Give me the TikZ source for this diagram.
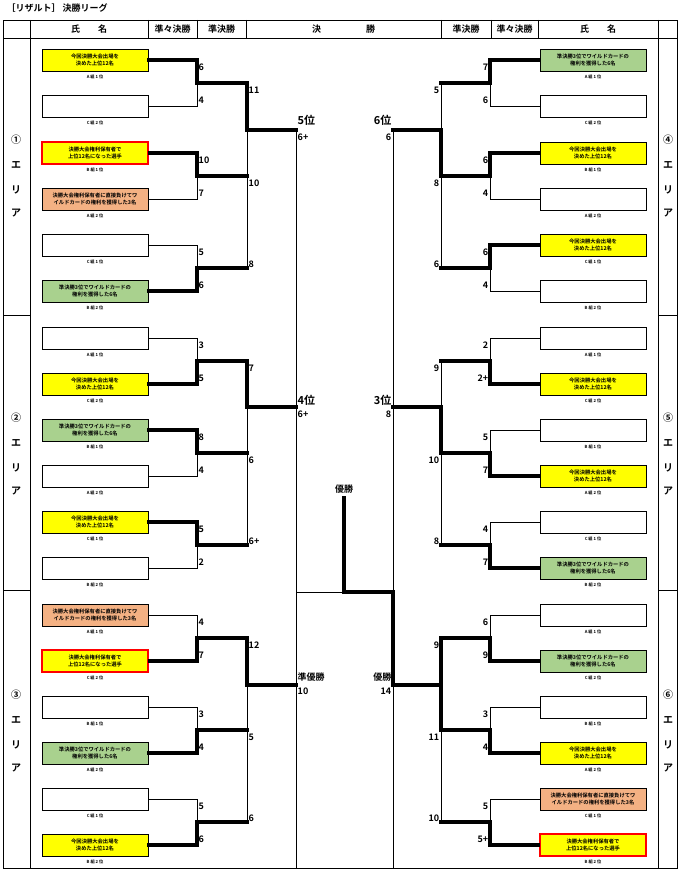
\documentclass[tikz,border=0pt]{standalone}
\usepackage{fontspec}
\setmainfont{Noto Sans CJK JP}[BoldFont={Noto Sans CJK JP Bold}]
\definecolor{ygl}{HTML}{FFFF00}
\definecolor{grn}{HTML}{A9D18E}
\definecolor{sal}{HTML}{F4B183}
\tikzset{
 box/.style={draw=black,line width=0.7pt,minimum width=106pt,minimum height=22pt,inner sep=0pt,align=center,font=\bfseries\fontsize{5.3}{7.5}\selectfont},
 W/.style={fill=white,node contents={}},
 Y/.style={fill=ygl,node contents={今回決勝大会出場を\\決めた上位12名}},
 G/.style={fill=grn,node contents={準決勝3位でワイルドカードの\\権利を獲得した6名}},
 S/.style={fill=sal,node contents={決勝大会権利保有者に直接負けてワ\\イルドカードの権利を獲得した3名}},
 R/.style={fill=ygl,draw=red,line width=2.6pt,node contents={決勝大会権利保有者で\\上位12名になった選手}},
 lab/.style={font=\bfseries\fontsize{4.2}{5}\selectfont,inner sep=0pt},
 thinl/.style={line width=0.8pt},
 thickl/.style={line width=3.2pt,line join=miter,line cap=rect},
 num/.style={font=\bfseries\fontsize{9}{9}\selectfont,inner sep=0.5pt},
 big/.style={font=\bfseries\fontsize{11}{11}\selectfont,inner sep=0.5pt},
 hdr/.style={font=\bfseries\fontsize{9}{9}\selectfont},
 area/.style={font=\bfseries\fontsize{10}{10}\selectfont},
}
\newcommand\entry[5]{\node[box,name=#1,at={(#2,#3)},#4]; \node[lab] at (#2,#3+17) {#5};}
% left pair: top, bot, y1, y2, winner, n1, n2
\newcommand\pairL[7]{%
 \pgfmathsetmacro\mm{(#3+#4)/2}
 \draw[thinl] (#1.east) -- (197,#3) -- (197,#4) -- (#2.east);
 \ifnum#5=1 \draw[thickl] (#1.east) -- (197,#3) -- (197,\mm) -- (247,\mm);
 \else \draw[thickl] (#2.east) -- (197,#4) -- (197,\mm) -- (247,\mm);\fi
 \node[num,anchor=west] at (198,#3+7) {#6};
 \node[num,anchor=west] at (198,#4-6) {#7};}
\newcommand\pairR[7]{%
 \pgfmathsetmacro\mm{(#3+#4)/2}
 \draw[thinl] (#1.west) -- (490,#3) -- (490,#4) -- (#2.west);
 \ifnum#5=1 \draw[thickl] (#1.west) -- (490,#3) -- (490,\mm) -- (441,\mm);
 \else \draw[thickl] (#2.west) -- (490,#4) -- (490,\mm) -- (441,\mm);\fi
 \node[num,anchor=east] at (489,#3+7) {#6};
 \node[num,anchor=east] at (489,#4-6) {#7};}
\begin{document}
\begin{tikzpicture}[x=1pt,y=-1pt]
\useasboundingbox (0,0) rectangle (680,875);
\node[anchor=west,font=\bfseries\fontsize{9}{9}\selectfont] at (3,8) {［リザルト］ 決勝リーグ};
% frame
\draw[line width=0.9pt] (3,20) rectangle (677,868);
\draw[thinl] (3,38) -- (677,38);
\draw[thinl] (30,20) -- (30,868) (658,20) -- (658,868);
\foreach \x in {148,197,246,441,491,538} \draw[thinl] (\x,20) -- (\x,38);
\draw[thinl] (3,315) -- (30,315) (3,590) -- (30,590) (658,315) -- (677,315) (658,590) -- (677,590);
\node[hdr] at (89,29) {氏　　名};
\node[hdr] at (172.5,29) {準々決勝};
\node[hdr] at (221.5,29) {準決勝};
\node[hdr] at (343.5,29) {決　　　　　勝};
\node[hdr] at (466,29) {準決勝};
\node[hdr] at (514.5,29) {準々決勝};
\node[hdr] at (598,29) {氏　　名};
\foreach \c/\y in {①/0,②/278,③/555} {
 \node[area] at (16,140+\y) {\c}; \node[area] at (16,165+\y) {エ};
 \node[area] at (16,190+\y) {リ}; \node[area] at (16,213+\y) {ア};}
\foreach \c/\y in {④/0,⑤/278,⑥/555} {
 \node[area] at (668,140+\y) {\c}; \node[area] at (668,165+\y) {エ};
 \node[area] at (668,190+\y) {リ}; \node[area] at (668,213+\y) {ア};}
% left entries
\entry{l1}{95}{60}{Y}{A 組 1 位}\entry{l2}{95}{106}{W}{C 組 2 位}
\entry{l3}{95}{153}{R}{B 組 1 位}\entry{l4}{95}{199}{S}{A 組 2 位}
\entry{l5}{95}{245}{W}{C 組 1 位}\entry{l6}{95}{291}{G}{B 組 2 位}
\entry{l7}{95}{338}{W}{A 組 1 位}\entry{l8}{95}{384}{Y}{C 組 2 位}
\entry{l9}{95}{430}{G}{B 組 1 位}\entry{l10}{95}{476}{W}{A 組 2 位}
\entry{l11}{95}{522}{Y}{C 組 1 位}\entry{l12}{95}{568}{W}{B 組 2 位}
\entry{l13}{95}{615}{S}{A 組 1 位}\entry{l14}{95}{661}{R}{C 組 2 位}
\entry{l15}{95}{707}{W}{B 組 1 位}\entry{l16}{95}{753}{G}{A 組 2 位}
\entry{l17}{95}{799}{W}{C 組 1 位}\entry{l18}{95}{845}{Y}{B 組 2 位}
% right entries
\entry{r1}{593}{60}{G}{A 組 1 位}\entry{r2}{593}{106}{W}{C 組 2 位}
\entry{r3}{593}{153}{Y}{B 組 1 位}\entry{r4}{593}{199}{W}{A 組 2 位}
\entry{r5}{593}{245}{Y}{C 組 1 位}\entry{r6}{593}{291}{W}{B 組 2 位}
\entry{r7}{593}{338}{W}{A 組 1 位}\entry{r8}{593}{384}{Y}{C 組 2 位}
\entry{r9}{593}{430}{W}{B 組 1 位}\entry{r10}{593}{476}{Y}{A 組 2 位}
\entry{r11}{593}{522}{W}{C 組 1 位}\entry{r12}{593}{568}{G}{B 組 2 位}
\entry{r13}{593}{615}{W}{A 組 1 位}\entry{r14}{593}{661}{G}{C 組 2 位}
\entry{r15}{593}{707}{W}{B 組 1 位}\entry{r16}{593}{753}{Y}{A 組 2 位}
\entry{r17}{593}{799}{S}{C 組 1 位}\entry{r18}{593}{845}{R}{B 組 2 位}
% SF verticals
\draw[thinl] (247,83) -- (247,268) (247,361) -- (247,545) (247,638) -- (247,822);
\draw[thinl] (441,83) -- (441,268) (441,361) -- (441,545) (441,638) -- (441,822);
\pairL{l1}{l2}{60}{106}{1}{6}{4}\pairL{l3}{l4}{153}{199}{1}{10}{7}\pairL{l5}{l6}{245}{291}{2}{5}{6}
\pairL{l7}{l8}{338}{384}{2}{3}{5}\pairL{l9}{l10}{430}{476}{1}{8}{4}\pairL{l11}{l12}{522}{568}{1}{5}{2}
\pairL{l13}{l14}{615}{661}{2}{4}{7}\pairL{l15}{l16}{707}{753}{2}{3}{4}\pairL{l17}{l18}{799}{845}{2}{5}{6}
\pairR{r1}{r2}{60}{106}{1}{7}{6}\pairR{r3}{r4}{153}{199}{1}{6}{4}\pairR{r5}{r6}{245}{291}{1}{6}{4}
\pairR{r7}{r8}{338}{384}{2}{2}{2+}\pairR{r9}{r10}{430}{476}{2}{5}{7}\pairR{r11}{r12}{522}{568}{2}{4}{7}
\pairR{r13}{r14}{615}{661}{2}{6}{9}\pairR{r15}{r16}{707}{753}{2}{3}{4}\pairR{r17}{r18}{799}{845}{2}{5}{5+}
% SF labels
\foreach \y/\t in {90/11,183/10,264/8,368/7,460/6,541/6+,645/12,737/5,818/6}
 \node[num,anchor=west] at (248,\y) {\t};
\foreach \y/\t in {90/5,183/8,264/6,368/9,460/10,541/8,645/9,737/11,818/10}
 \node[num,anchor=east] at (440,\y) {\t};
% SF winner paths
\draw[thickl] (247,83) -- (247,130) -- (296,130);
\draw[thickl] (247,361) -- (247,407) -- (296,407);
\draw[thickl] (247,638) -- (247,685) -- (296,685);
\draw[thickl] (441,176) -- (441,130) -- (393,130);
\draw[thickl] (441,453) -- (441,407) -- (393,407);
\draw[thickl] (441,638) -- (441,730);
\draw[thickl] (441,685) -- (393,685);
% center
\draw[thinl] (296,130) -- (296,868) (393,130) -- (393,868) (296,592) -- (393,592);
\draw[thickl] (393,685) -- (393,592) -- (344,592) -- (344,498);
\node[big,anchor=west] at (297,120) {5位};
\node[num,anchor=west] at (297,137) {6+};
\node[big,anchor=east] at (392,120) {6位};
\node[num,anchor=east] at (392,137) {6};
\node[big,anchor=west] at (297,400) {4位};
\node[num,anchor=west] at (297,414) {6+};
\node[big,anchor=east] at (392,400) {3位};
\node[num,anchor=east] at (392,414) {8};
\node[num,anchor=west] at (297,677) {準優勝};
\node[num,anchor=west] at (297,691) {10};
\node[num,anchor=east] at (392,677) {優勝};
\node[num,anchor=east] at (392,691) {14};
\node[num] at (344,489) {優勝};
\end{tikzpicture}
\end{document}
